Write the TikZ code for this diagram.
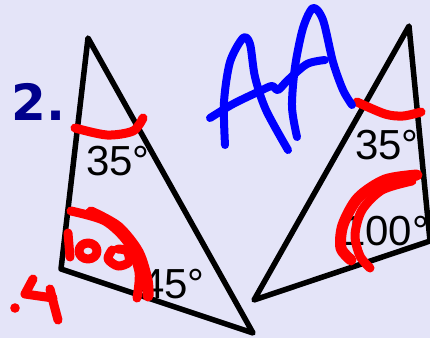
\documentclass[tikz,border=0pt]{standalone}
\usepackage{fontspec}
\setmainfont{Liberation Sans}
\newfontfamily\boldnum{DejaVu Sans Bold}
\definecolor{bgcol}{RGB}{228,228,248}
\definecolor{navy}{RGB}{0,0,140}
\definecolor{pen}{RGB}{255,0,0}
\definecolor{bluepen}{RGB}{0,0,255}
\begin{document}
\begin{tikzpicture}[x=1pt,y=-1pt,
  tri/.style={line width=5.5pt,line join=round,line cap=round,black},
  redpen/.style={line width=9pt,line cap=round,line join=round,pen},
  thickred/.style={line width=11pt,line cap=round,line join=round,pen},
  bluestroke/.style={line width=8pt,line cap=round,line join=round,bluepen},
  deg/.style={font=\fontsize{42}{42}\selectfont,anchor=base west,inner sep=0pt,text=black}]
\fill[bgcol] (0,0) rectangle (430,338);
\useasboundingbox (0,0) rectangle (430,338);
% left triangle
\coordinate (la) at (88,38);
\coordinate (lb) at (61,269);
\coordinate (lc) at (253,333);
\draw[tri] (la) -- (lb) -- (lc) -- cycle;
% right triangle
\coordinate (ra) at (409,26);
\coordinate (rb) at (254,300);
\coordinate (rc) at (430,241);
\draw[tri] (ra) -- (rb) -- (rc) -- cycle;
% labels
\node[font=\boldnum\fontsize{50}{50}\selectfont,text=navy,anchor=base west,inner sep=0pt] (two) at (11,120) {2.};
\node[deg] (l35) at (86,175) {35°};
\node[deg] (l45) at (141,298) {45°};
\node[deg] (r35) at (355,159) {35°};
\node[deg] (r100) at (342,245) {100°};
% red marks left
\draw[redpen] plot[smooth] coordinates {(75,128) (107,135) (133,131) (143,118)};
\draw[redpen] plot[smooth] coordinates {(71,211) (105,221) (128,243) (139,272) (137,298)};
\draw[thickred] plot[smooth] coordinates {(91,212) (118,227) (138,252) (147,280) (148,296)};
\draw[redpen] (68,233) -- (70,257);
\draw[redpen] (88,251) ellipse [x radius=9, y radius=8];
\draw[redpen] plot[smooth] coordinates {(112,250) (108,259) (118,266) (129,262) (127,251) (118,249)};
% red ".4"
\fill[pen] (15,308) circle (4.8);
\draw[redpen] (33,279) -- (25,294) -- (53,298);
\draw[redpen] (50,289) -- (54,305) -- (58,320);
% red marks right
\draw[redpen] plot[smooth] coordinates {(357,102) (385,114) (403,116) (421,112)};
\draw[thickred] plot[smooth] coordinates {(417,175) (385,180) (358,198) (343,225) (341,248) (351,260)};
\draw[redpen] plot[smooth] coordinates {(412,181) (382,190) (362,210) (355,235) (360,256) (370,268)};
% blue AA
\draw[bluestroke] plot[smooth] coordinates {(225,145) (224,102) (230,62) (243,38) (250,44) (255,77) (266,110) (288,150)};
\draw[bluestroke] plot[smooth] coordinates {(210,118) (233,104) (260,91) (272,86) (278,90) (288,80) (307,64) (325,60)};
\draw[bluestroke] plot[smooth] coordinates {(297,137) (292,107) (295,67) (303,28) (313,8) (323,20) (333,62) (343,90) (352,105)};
\end{tikzpicture}
\end{document}
